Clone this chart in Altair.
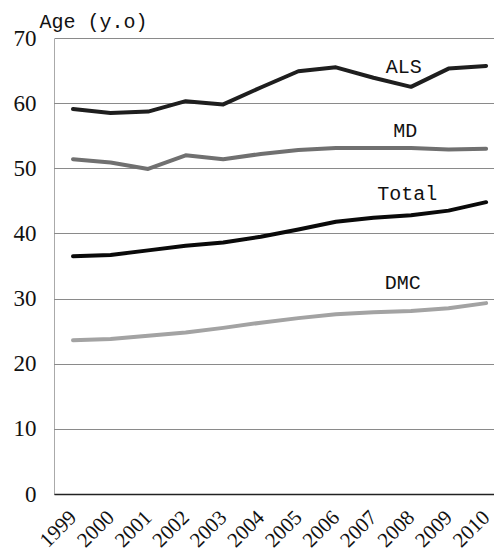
import altair as alt
import pandas as pd

years = [1999, 2000, 2001, 2002, 2003, 2004, 2005, 2006, 2007, 2008, 2009, 2010]
als = [59.1, 58.5, 58.7, 60.3, 59.8, 62.4, 64.9, 65.5, 63.9, 62.5, 65.3, 65.7]
md = [51.4, 50.9, 49.9, 52.0, 51.4, 52.2, 52.8, 53.1, 53.1, 53.1, 52.9, 53.0]
total = [36.5, 36.7, 37.4, 38.1, 38.6, 39.5, 40.6, 41.8, 42.4, 42.8, 43.5, 44.8]
dmc = [23.6, 23.8, 24.3, 24.8, 25.5, 26.3, 27.0, 27.6, 27.9, 28.1, 28.5, 29.3]

series_names = ["ALS", "MD", "Total", "DMC"]
series_colors = ["#1e1e1e", "#707070", "#0a0a0a", "#a3a3a3"]
series_widths = [4, 4, 5, 4]

label_text = ["ALS", "MD", "Total", "DMC"]
label_x = [2007.81, 2007.85, 2007.9, 2007.78]
label_y = [65.6, 55.8, 46.0, 32.4]

rows = []
for name, vals in zip(series_names, [als, md, total, dmc]):
    for y, v in zip(years, vals):
        rows.append({"year": y, "age": v, "series": name})
df = pd.DataFrame(rows)
labels_df = pd.DataFrame({"text": label_text, "year": label_x, "age": label_y})

xscale = alt.Scale(domain=[1998.494, 2010.21], nice=False, zero=False)
yscale = alt.Scale(domain=[0, 70], nice=False)

x_axis = alt.Axis(
    values=years,
    format="d",
    labelAngle=-45,
    labelAlign="right",
    labelBaseline="middle",
    labelPadding=20,
    labelFont="Liberation Serif",
    labelFontSize=21,
    labelColor="#111",
    ticks=False,
    grid=False,
    domain=True,
    domainColor="#222",
    domainWidth=1.5,
    title=None,
    labelOverlap=False,
    labelFlush=False,
    labelBound=False,
)
y_axis = alt.Axis(
    values=[0, 10, 20, 30, 40, 50, 60, 70],
    ticks=False,
    labelPadding=18,
    labelFont="Liberation Serif",
    labelFontSize=23,
    labelColor="#111",
    grid=True,
    gridColor="#8a8a8a",
    gridWidth=1,
    domain=True,
    domainColor="#555",
    domainDash=[1, 1],
    title="Age (y.o)",
    titleFont="Liberation Mono",
    titleFontSize=20,
    titleFontWeight="normal",
    titleColor="#111",
    titleAngle=0,
    titleAlign="left",
    titleBaseline="alphabetic",
    titleX=-15,
    titleY=-11,
    labelFlush=False,
    labelOverlap=False,
)

lines = alt.Chart(df).mark_line(strokeCap="round", strokeJoin="round").encode(
    x=alt.X("year:Q", scale=xscale, axis=x_axis),
    y=alt.Y("age:Q", scale=yscale, axis=y_axis),
    color=alt.Color("series:N", scale=alt.Scale(domain=series_names, range=series_colors), legend=None),
    strokeWidth=alt.StrokeWidth("series:N", scale=alt.Scale(domain=series_names, range=series_widths), legend=None),
    detail="series:N",
)

texts = alt.Chart(labels_df).mark_text(
    font="Liberation Mono", fontSize=20, color="#111", align="center", baseline="middle"
).encode(
    x=alt.X("year:Q", scale=xscale, axis=x_axis),
    y=alt.Y("age:Q", scale=yscale, axis=y_axis),
    text="text:N",
)

chart = (
    alt.layer(lines, texts)
    .properties(
        width=440,
        height=456,
        autosize=alt.AutoSizeParams(type="none"),
        padding={"left": 54, "top": 38, "right": 0, "bottom": 64},
        background="white",
    )
    .configure_view(stroke=None)
)

chart.save("out.html", embed_options={"renderer": "svg", "actions": False})
